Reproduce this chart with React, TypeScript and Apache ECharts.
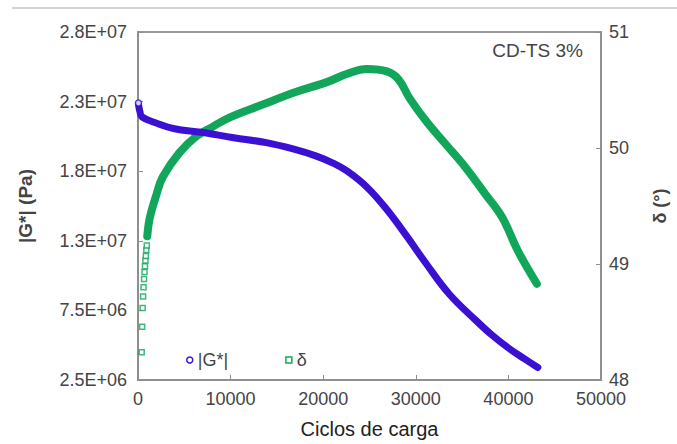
import React, { useEffect, useRef } from "react";
import * as echarts from "echarts";

// |G*| (Pa) vs load cycles
const G_CYCLES = [50, 200, 430, 1810, 3940, 6820, 10340, 13860, 16740, 19190, 21000, 22600, 24730, 26870, 29000, 31130, 33580, 36460, 38270, 40000, 41790, 43180];
const G_VALUES = [22.3e6, 21.8e6, 21.4e6, 21.0e6, 20.55e6, 20.3e6, 19.9e6, 19.55e6, 19.1e6, 18.6e6, 18.1e6, 17.5e6, 16.35e6, 14.75e6, 12.85e6, 10.85e6, 8.7e6, 6.8e6, 5.7e6, 4.8e6, 4.0e6, 3.4e6];
const G_FIRST_CYCLE = [50];
const G_FIRST_VALUE = [22.4e6];

// δ (°) vs load cycles: sparse early markers
const D_EARLY_CYCLES = [400, 450, 500, 550, 600, 650, 700, 750, 800, 850, 900, 950];
const D_EARLY_VALUES = [48.24, 48.46, 48.62, 48.72, 48.8, 48.87, 48.93, 48.98, 49.03, 49.07, 49.12, 49.16];
// δ (°) dense part
const D_CYCLES = [1000, 1280, 2000, 2670, 4480, 6290, 8000, 9810, 13330, 16950, 20470, 22600, 24730, 26870, 28150, 29320, 31130, 33260, 35390, 37530, 39340, 41050, 43070];
const D_VALUES = [49.24, 49.4, 49.6, 49.75, 49.96, 50.1, 50.18, 50.26, 50.37, 50.48, 50.57, 50.64, 50.68, 50.66, 50.59, 50.43, 50.23, 50.03, 49.83, 49.6, 49.4, 49.11, 48.83];

const G_OFFSET = 2.5e6; // left axis starts at 2.5E+06
const G_TICK_LABELS = ["2.5E+06", "7.5E+06", "1.3E+07", "1.8E+07", "2.3E+07", "2.8E+07"];
const X_TICK_LABELS = ["0", "10000", "20000", "30000", "40000", "50000"];
const D_TICKS = [48, 49, 50, 51];

const BLUE = "#3a10d2";
const GREEN = "#12a65a";
const AXIS = "#8f8f8f";
const LABEL = "#444";
const FONT = "'Liberation Sans', Arial, sans-serif";

export default function App() {
  const ref = useRef<HTMLDivElement>(null);
  useEffect(() => {
    const chart = echarts.init(ref.current as HTMLDivElement, null, { renderer: "svg" });
    const gData = G_CYCLES.map((c, i) => [c, G_VALUES[i] - G_OFFSET]);
    const gFirst = G_FIRST_CYCLE.map((c, i) => [c, G_FIRST_VALUE[i] - G_OFFSET]);
    const dEarly = D_EARLY_CYCLES.map((c, i) => [c, D_EARLY_VALUES[i]]);
    const dData = D_CYCLES.map((c, i) => [c, D_VALUES[i]]);
    chart.setOption({
      animation: false,
      backgroundColor: "#fff",
      title: {
        text: "CD-TS 3%",
        right: 94,
        top: 41,
        padding: 0,
        textStyle: { fontFamily: FONT, fontSize: 19, fontWeight: "normal", color: LABEL },
      },
      legend: {
        left: 186,
        top: 351,
        itemWidth: 6,
        itemHeight: 6,
        itemGap: 57,
        padding: 0,
        textStyle: { fontFamily: FONT, fontSize: 18, color: LABEL },
        data: [
          { name: "|G*|", icon: "circle", itemStyle: { color: "#fff", borderColor: BLUE, borderWidth: 1.5 } },
          { name: "δ", icon: "rect", itemStyle: { color: "#fff", borderColor: GREEN, borderWidth: 1.5 } },
        ],
      },
      graphic: [
        { type: "line", shape: { x1: 12, y1: 8, x2: 677, y2: 8 }, style: { stroke: "#c4c4c4", lineWidth: 1.5 } },
      ],
      grid: {
        left: 138,
        right: 70,
        top: 32,
        bottom: 63,
        show: true,
        borderColor: "#7a7a7a",
        borderWidth: 1.5,
      },
      xAxis: {
        type: "value",
        min: 0,
        max: 50000,
        interval: 10000,
        name: "Ciclos de carga",
        nameLocation: "middle",
        nameGap: 39,
        nameTextStyle: { fontFamily: FONT, fontSize: 20, color: "#222" },
        axisLine: { lineStyle: { color: AXIS, width: 2 } },
        axisTick: { inside: true, length: 5, lineStyle: { color: AXIS } },
        axisLabel: {
          margin: 10,
          fontFamily: FONT,
          fontSize: 18,
          color: LABEL,
          formatter: (_v: number, i: number) => X_TICK_LABELS[i],
        },
        splitLine: { show: false },
      },
      yAxis: [
        {
          type: "value",
          min: 0,
          max: 2.5e7,
          interval: 5e6,
          name: "|G*| (Pa)",
          nameLocation: "middle",
          nameRotate: 90,
          nameGap: 103,
          nameTextStyle: { fontFamily: FONT, fontSize: 19, fontWeight: "bold", color: LABEL },
          axisLine: { show: true, lineStyle: { color: AXIS, width: 2 } },
          axisTick: { show: true, inside: true, length: 5, lineStyle: { color: AXIS } },
          axisLabel: {
            margin: 11,
            fontFamily: FONT,
            fontSize: 18,
            color: LABEL,
            formatter: (_v: number, i: number) => G_TICK_LABELS[i],
          },
          splitLine: { show: false },
        },
        {
          type: "value",
          min: D_TICKS[0],
          max: D_TICKS[D_TICKS.length - 1],
          interval: 1,
          position: "right",
          name: "δ (°)",
          nameLocation: "middle",
          nameRotate: 90,
          nameGap: 50,
          nameTextStyle: { fontFamily: FONT, fontSize: 18, fontWeight: "bold", color: LABEL },
          axisLine: { show: true, lineStyle: { color: AXIS, width: 2 } },
          axisTick: { show: true, inside: true, length: 5, lineStyle: { color: AXIS } },
          axisLabel: { margin: 8, fontFamily: FONT, fontSize: 18, color: LABEL },
          splitLine: { show: false },
        },
      ],
      series: [
        {
          name: "|G*|",
          type: "line",
          yAxisIndex: 0,
          data: gData,
          smooth: 0.4,
          symbol: "none",
          lineStyle: { color: BLUE, width: 7, cap: "round", join: "round" },
          itemStyle: { color: BLUE },
          z: 3,
        },
        {
          name: "|G*|",
          type: "scatter",
          yAxisIndex: 0,
          data: gFirst,
          symbol: "circle",
          symbolSize: 6,
          itemStyle: { color: "#fff", borderColor: BLUE, borderWidth: 1.5 },
          z: 4,
        },
        {
          name: "δ",
          type: "line",
          yAxisIndex: 1,
          data: dData,
          smooth: 0.4,
          symbol: "none",
          lineStyle: { color: GREEN, width: 8, cap: "round", join: "round" },
          itemStyle: { color: GREEN },
          z: 2,
        },
        {
          name: "δ",
          type: "scatter",
          yAxisIndex: 1,
          data: dEarly,
          symbol: "rect",
          symbolSize: 5,
          itemStyle: { color: "#fff", borderColor: GREEN, borderWidth: 1.5 },
          z: 2,
        },
      ],
    });
    return () => chart.dispose();
  }, []);
  return <div ref={ref} style={{ position: "fixed", left: 0, top: 0, width: 677, height: 444 }} />;
}
